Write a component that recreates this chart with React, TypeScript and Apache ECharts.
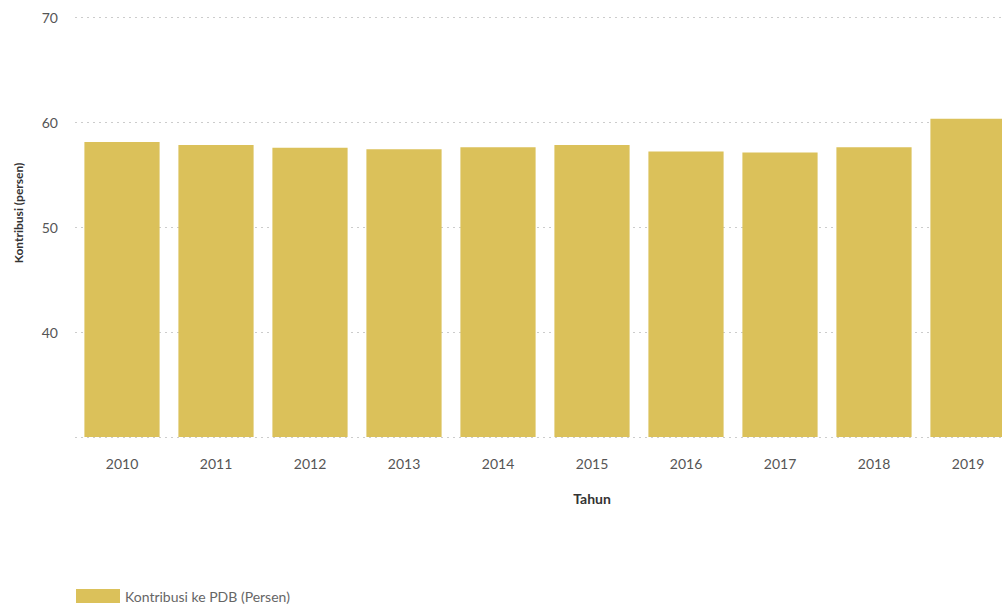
import React, { useEffect, useRef } from "react";
import * as echarts from "echarts";

const years = ["2010", "2011", "2012", "2013", "2014", "2015", "2016", "2017", "2018", "2019"];
const kontribusi = [58.1, 57.8, 57.55, 57.4, 57.6, 57.8, 57.2, 57.1, 57.6, 60.3];
const seriesName = "Kontribusi ke PDB (Persen)";
const yTicks = { min: 30, max: 70, interval: 10 };

export default function App() {
  const ref = useRef<HTMLDivElement>(null);
  useEffect(() => {
    if (!ref.current) return;
    const chart = echarts.init(ref.current, null, { renderer: "svg" });
    chart.setOption({
      animation: false,
      textStyle: { fontFamily: "Lato" },
      legend: {
        show: true,
        left: 71,
        top: 584,
        itemWidth: 44,
        itemHeight: 14,
        itemGap: 10,
        itemStyle: { borderWidth: 0 },
        icon: "rect",
        textStyle: { color: "#666", fontSize: 14, fontFamily: "Lato" },
        data: [seriesName],
      },
      grid: { left: 75, top: 17, bottom: 172, width: 940, outerBoundsMode: "none", containLabel: false },
      xAxis: {
        type: "category",
        data: years,
        axisLine: { show: false },
        axisTick: { show: false },
        axisLabel: { color: "#555", fontSize: 14, margin: 19, fontFamily: "Lato" },
        name: "Tahun",
        nameLocation: "middle",
        nameGap: 54,
        nameTextStyle: {
          color: "#333",
          fontSize: 14,
          fontWeight: "bold",
          fontFamily: "Lato",
          padding: [0, 0, 0, 94],
        },
      },
      yAxis: {
        type: "value",
        min: yTicks.min,
        max: yTicks.max,
        interval: yTicks.interval,
        axisLine: { show: false },
        axisTick: { show: false },
        axisLabel: {
          color: "#555",
          fontSize: 14,
          margin: 17,
          fontFamily: "Lato",
          showMinLabel: false,
          formatter: (v: number) => (v === yTicks.min ? "" : String(v)),
        },
        splitLine: { lineStyle: { color: "#cccccc", type: [2, 4], width: 1 } },
        name: "Kontribusi (persen)",
        nameLocation: "middle",
        nameGap: 51,
        nameTextStyle: {
          color: "#333",
          fontSize: 12,
          fontWeight: "bold",
          fontFamily: "Lato",
          padding: [0, 0, 0, 28],
        },
      },
      series: [
        {
          name: seriesName,
          type: "bar",
          data: kontribusi,
          barCategoryGap: "20%",
          itemStyle: { color: "#dbc15a" },
        },
      ],
    });
    return () => chart.dispose();
  }, []);
  return <div ref={ref} style={{ width: 1002, height: 609, position: "absolute", left: 0, top: 0 }} />;
}
